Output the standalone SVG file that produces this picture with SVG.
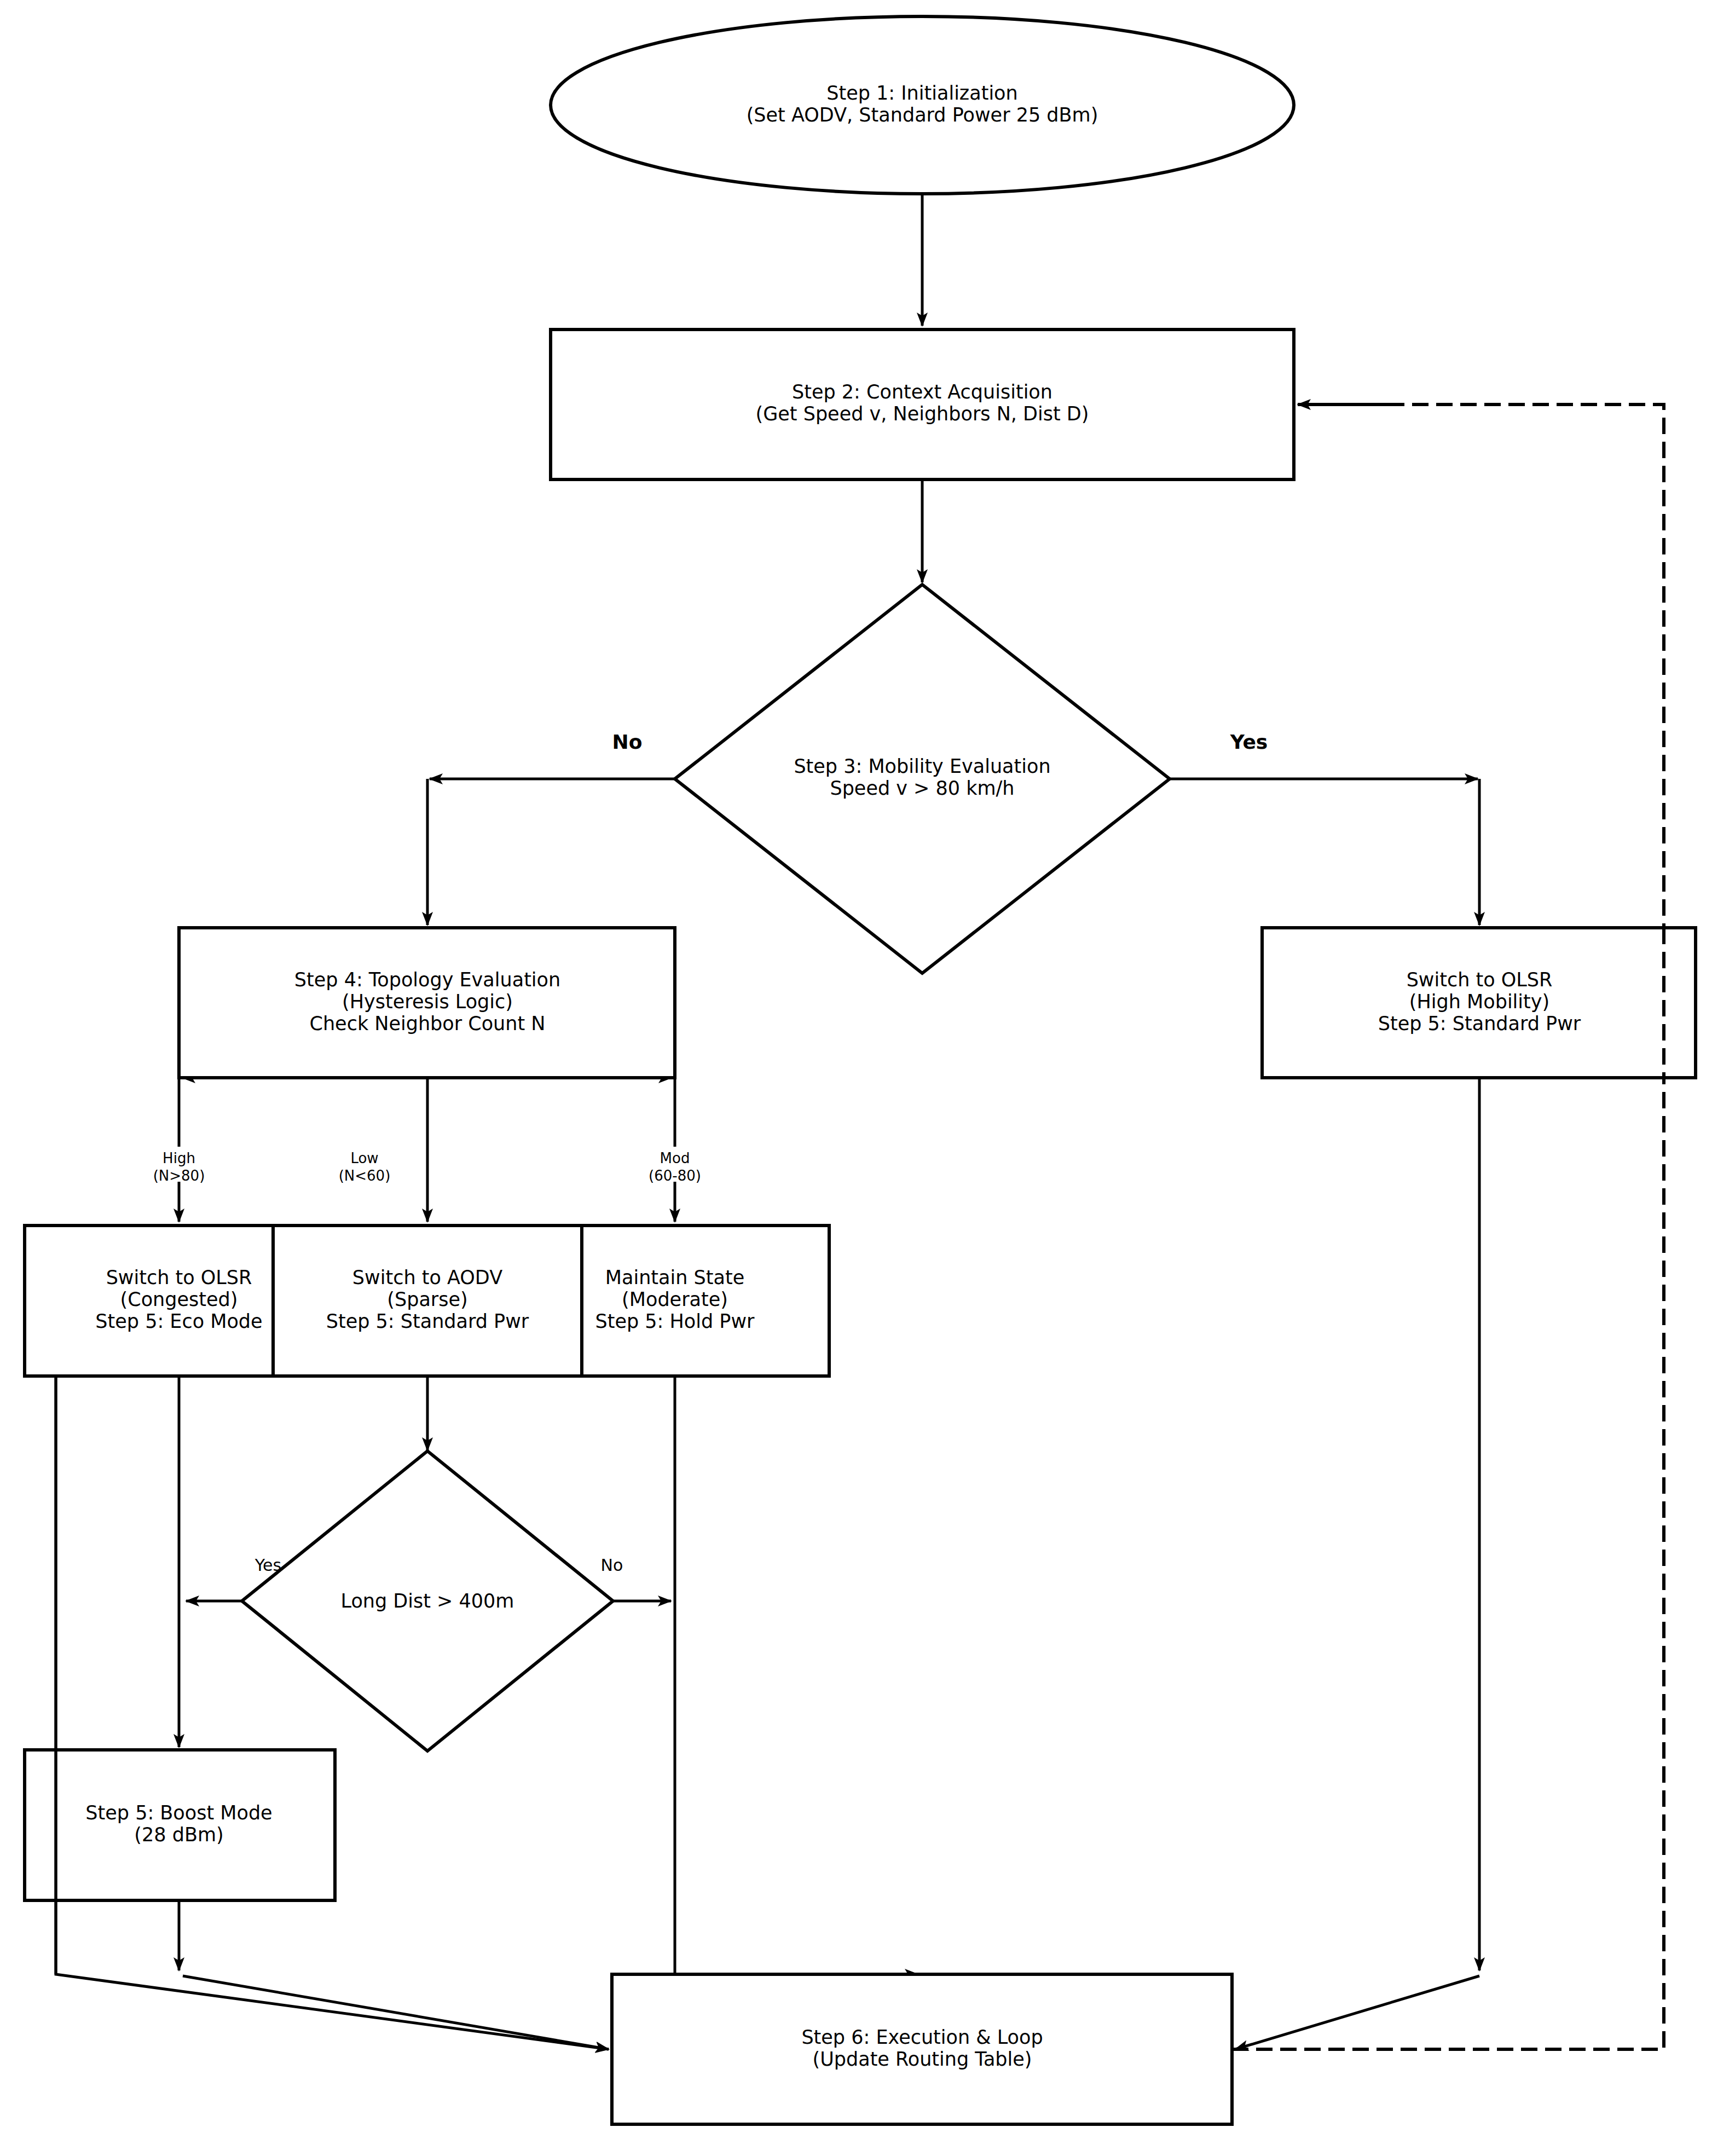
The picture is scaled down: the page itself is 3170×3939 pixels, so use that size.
<svg xmlns="http://www.w3.org/2000/svg" width="3170" height="3939" viewBox="0 0 3170 3939">
<style>
.s{fill:#fff;stroke:#000;stroke-width:6}
.l{fill:none;stroke:#000;stroke-width:5}
.d{fill:none;stroke:#000;stroke-width:6;stroke-dasharray:30,14}
text{font-family:"DejaVu Sans",sans-serif;font-size:35px;text-anchor:middle;fill:#000}
.sm{font-size:26px}
.b{font-weight:bold;font-size:36px}
</style>
<defs>
<marker id="a" viewBox="-24 -12 26 24" refX="0" refY="0" markerWidth="26" markerHeight="24" orient="auto-start-reverse" markerUnits="userSpaceOnUse"><path d="M-24,-10 L2,0 L-24,10 L-18,0z" fill="#000"/></marker>
</defs>
<rect width="3170" height="3939" fill="#fff"/>
<g id="connectors">
<path class="l" d="M1685,354V595" marker-end="url(#a)"/>
<path class="l" d="M1685,876V1064" marker-end="url(#a)"/>
<path class="l" d="M1233,1423H785" marker-end="url(#a)"/>
<path class="l" d="M781,1423V1690" marker-end="url(#a)"/>
<path class="l" d="M2137,1423H2700" marker-end="url(#a)"/>
<path class="l" d="M2703,1423V1690" marker-end="url(#a)"/>
<path class="l" d="M333,1969H1227" marker-start="url(#a)" marker-end="url(#a)"/>
<path class="l" d="M327,1969V2232" marker-end="url(#a)"/>
<path class="l" d="M781,1969V2232" marker-end="url(#a)"/>
<path class="l" d="M1233,1969V2232" marker-end="url(#a)"/>
<path class="l" d="M102,2514V3607L1112,3744" marker-end="url(#a)"/>
<path class="l" d="M327,2514V3192" marker-end="url(#a)"/>
<path class="l" d="M327,3472V3600" marker-end="url(#a)"/>
<path class="l" d="M334,3610L1112,3744" marker-end="url(#a)"/>
<path class="l" d="M781,2514V2650" marker-end="url(#a)"/>
<path class="l" d="M442,2925H340" marker-end="url(#a)"/>
<path class="l" d="M1120,2925H1226" marker-end="url(#a)"/>
<path class="l" d="M1233,2514V3607H1677" marker-end="url(#a)"/>
<path class="l" d="M2703,1969V3600" marker-end="url(#a)"/>
<path class="l" d="M2703,3610L2257,3744" marker-end="url(#a)"/>
<path class="d" d="M2251,3744H3040V739H2540"/>
<path class="l" d="M2545,739H2371" marker-end="url(#a)" style="stroke-width:6"/>
<text class="b" x="1146" y="1368">No</text>
<text class="b" x="2282" y="1368">Yes</text>
<rect x="280" y="2095" width="94" height="64" fill="#fff"/>
<text class="sm" x="327" y="2125">High</text><text class="sm" x="327" y="2157">(N&gt;80)</text>
<text class="sm" x="666" y="2125">Low</text><text class="sm" x="666" y="2157">(N&lt;60)</text>
<rect x="1180" y="2095" width="106" height="64" fill="#fff"/>
<text class="sm" x="1233" y="2125">Mod</text><text class="sm" x="1233" y="2157">(60-80)</text>
<text x="490" y="2870" style="font-size:30px">Yes</text>
<text x="1118" y="2870" style="font-size:30px">No</text>
</g>
<g id="n1"><ellipse class="s" cx="1685" cy="192" rx="679" ry="162"/><text x="1685" y="182">Step 1: Initialization</text><text x="1685" y="222">(Set AODV, Standard Power 25 dBm)</text></g>
<g id="n2"><rect class="s" x="1006" y="602" width="1358" height="274"/><text x="1685" y="728">Step 2: Context Acquisition</text><text x="1685" y="768">(Get Speed v, Neighbors N, Dist D)</text></g>
<g id="n3"><polygon class="s" points="1685,1068 2137,1423 1685,1778 1233,1423"/><text x="1685" y="1412">Step 3: Mobility Evaluation</text><text x="1685" y="1452">Speed v &gt; 80 km/h</text></g>
<g id="n4"><rect class="s" x="327" y="1695" width="906" height="274"/><text x="781" y="1802">Step 4: Topology Evaluation</text><text x="781" y="1842">(Hysteresis Logic)</text><text x="781" y="1882">Check Neighbor Count N</text></g>
<g id="n5"><rect class="s" x="2306" y="1695" width="792" height="274"/><text x="2703" y="1802">Switch to OLSR</text><text x="2703" y="1842">(High Mobility)</text><text x="2703" y="1882">Step 5: Standard Pwr</text></g>
<g id="n6"><rect class="s" x="45" y="2239" width="454" height="275"/><text x="327" y="2346">Switch to OLSR</text><text x="327" y="2386">(Congested)</text><text x="327" y="2426">Step 5: Eco Mode</text></g>
<g id="n7"><rect class="s" x="499" y="2239" width="564" height="275"/><text x="781" y="2346">Switch to AODV</text><text x="781" y="2386">(Sparse)</text><text x="781" y="2426">Step 5: Standard Pwr</text></g>
<g id="n8"><rect class="s" x="1063" y="2239" width="452" height="275"/><text x="1233" y="2346">Maintain State</text><text x="1233" y="2386">(Moderate)</text><text x="1233" y="2426">Step 5: Hold Pwr</text></g>
<g id="n9"><polygon class="s" points="781,2651 1120,2925 781,3199 442,2925"/><text x="781" y="2937">Long Dist &gt; 400m</text></g>
<g id="n10"><rect class="s" x="45" y="3197" width="567" height="275" style="fill:none"/><text x="327" y="3324">Step 5: Boost Mode</text><text x="327" y="3364">(28 dBm)</text></g>
<g id="n11"><rect class="s" x="1118" y="3607" width="1133" height="274"/><text x="1685" y="3734">Step 6: Execution &amp; Loop</text><text x="1685" y="3774">(Update Routing Table)</text></g>
<path class="l" d="M102,2514V3607"/>
<path class="d" d="M3040,1695V1969"/>
</svg>
